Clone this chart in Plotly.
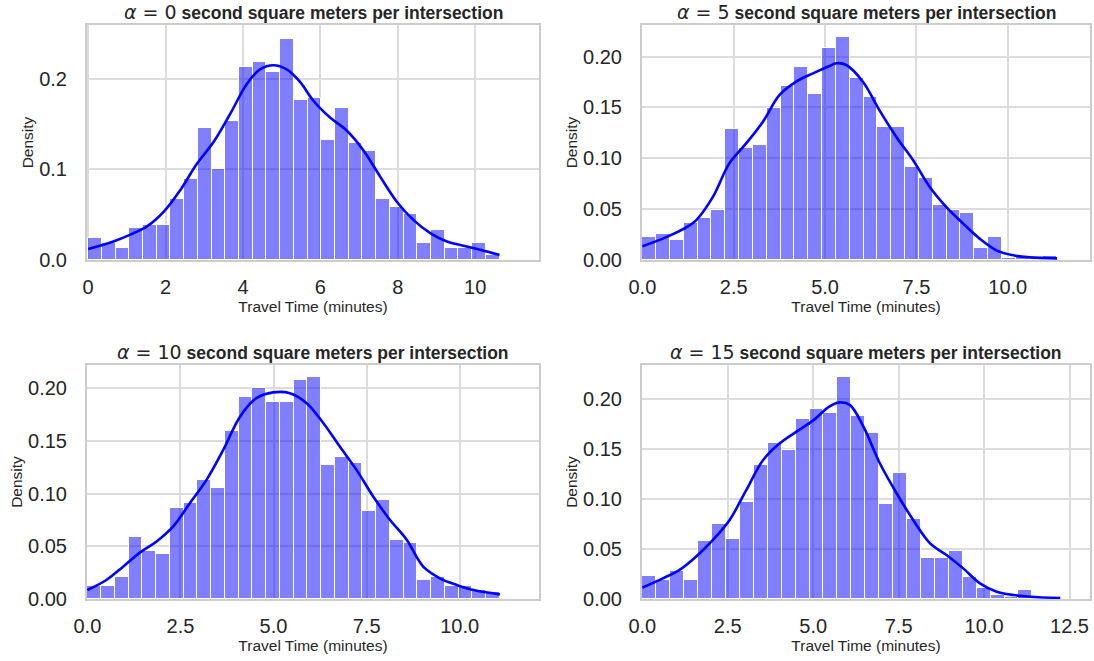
import plotly.graph_objects as go

# ---------------- data ----------------
alphas = [0, 5, 10, 15]

hist_min = [0.0, 0.0, 0.0, 0.0]
hist_max = [10.63, 11.35, 11.08, 12.23]

dens_a0 = [0.0245, 0.0186, 0.0135, 0.0358, 0.0387, 0.0387, 0.0668, 0.089, 0.1456, 0.1007,
           0.1536, 0.2128, 0.2182, 0.2077, 0.244, 0.1763, 0.179, 0.1318, 0.168, 0.1285,
           0.1204, 0.0668, 0.0584, 0.0504, 0.019, 0.0332, 0.0135, 0.0135, 0.019, 0.0055]
dens_a5 = [0.0227, 0.0253, 0.020, 0.0364, 0.0417, 0.0492, 0.1287, 0.1103, 0.1129, 0.1497,
           0.171, 0.1894, 0.1632, 0.208, 0.219, 0.179, 0.160, 0.131, 0.131, 0.0919,
           0.0811, 0.0545, 0.0492, 0.0466, 0.0122, 0.0227, 0.002, 0.0043, 0.0, 0.0043]
dens_a10 = [0.0123, 0.0127, 0.0209, 0.0589, 0.0456, 0.043, 0.086, 0.0915, 0.1133, 0.105,
            0.1595, 0.192, 0.200, 0.1867, 0.1867, 0.208, 0.2108, 0.127, 0.1348, 0.1294,
            0.0835, 0.094, 0.056, 0.0532, 0.018, 0.0209, 0.0127, 0.0127, 0.0085, 0.0066]
dens_a15 = [0.0234, 0.019, 0.0284, 0.019, 0.058, 0.0752, 0.0605, 0.0972, 0.134, 0.156,
            0.149, 0.1808, 0.1904, 0.186, 0.2225, 0.1834, 0.166, 0.0949, 0.1266, 0.080,
            0.0408, 0.0408, 0.0481, 0.0217, 0.0113, 0.004, 0.0023, 0.009, 0.0, 0.002]
densities = [dens_a0, dens_a5, dens_a10, dens_a15]

kde_x_a0 = [0.0, 0.65, 1.09, 1.52, 1.95, 2.38, 2.81, 3.24, 3.67, 4.10, 4.44, 4.79, 5.13,
            5.48, 5.82, 6.25, 6.68, 7.11, 7.55, 7.98, 8.41, 8.84, 9.27, 9.70, 10.13, 10.63]
kde_y_a0 = [0.012, 0.0204, 0.028, 0.037, 0.053, 0.077, 0.106, 0.130, 0.161, 0.194, 0.210,
            0.2146, 0.210, 0.196, 0.1755, 0.157, 0.1427, 0.121, 0.0916, 0.064, 0.044, 0.0296,
            0.0204, 0.0157, 0.0113, 0.0055]
kde_x_a5 = [0.0, 0.56, 1.1, 1.47, 1.93, 2.38, 2.84, 3.30, 3.75, 4.21, 4.67, 5.12, 5.31, 5.58,
            6.04, 6.49, 6.95, 7.41, 7.86, 8.32, 8.78, 9.23, 9.69, 10.15, 10.6, 11.35]
kde_y_a5 = [0.0135, 0.021, 0.030, 0.039, 0.062, 0.095, 0.1146, 0.136, 0.162, 0.1753, 0.1835,
            0.1907, 0.1934, 0.1917, 0.175, 0.147, 0.121, 0.098, 0.072, 0.052, 0.0358, 0.021,
            0.0095, 0.0046, 0.0026, 0.0016]
kde_x_a10 = [0.0, 0.51, 0.96, 1.41, 1.85, 2.30, 2.75, 3.20, 3.65, 4.10, 4.54, 4.99, 5.44,
             5.89, 6.34, 6.78, 7.23, 7.68, 8.13, 8.58, 9.02, 9.47, 9.92, 10.37, 11.08]
kde_y_a10 = [0.0085, 0.018, 0.0307, 0.044, 0.0544, 0.0687, 0.0908, 0.113, 0.1415, 0.173,
             0.1905, 0.196, 0.1953, 0.1858, 0.1668, 0.1446, 0.1225, 0.097, 0.075, 0.056,
             0.0307, 0.0196, 0.0133, 0.0085, 0.0044]
kde_x_a15 = [0.0, 0.6, 1.08, 1.57, 2.06, 2.55, 3.04, 3.53, 4.02, 4.51, 5.0, 5.48, 5.78, 6.07,
             6.47, 6.95, 7.44, 7.93, 8.42, 8.9, 9.39, 9.88, 10.37, 10.86, 11.35, 12.23]
kde_y_a15 = [0.0114, 0.0207, 0.029, 0.0424, 0.059, 0.079, 0.109, 0.139, 0.156, 0.1677, 0.179,
             0.193, 0.197, 0.1945, 0.1727, 0.136, 0.106, 0.079, 0.0558, 0.0441, 0.0307, 0.0157,
             0.0073, 0.004, 0.0023, 0.001]
kde_xs = [kde_x_a0, kde_x_a5, kde_x_a10, kde_x_a15]
kde_ys = [kde_y_a0, kde_y_a5, kde_y_a10, kde_y_a15]

x_ticks = [[0, 2, 4, 6, 8, 10], [0, 2.5, 5, 7.5, 10], [0, 2.5, 5, 7.5, 10],
           [0, 2.5, 5, 7.5, 10, 12.5]]
y_ticks = [[0, 0.1, 0.2], [0, 0.05, 0.10, 0.15, 0.20], [0, 0.05, 0.10, 0.15, 0.20],
           [0, 0.05, 0.10, 0.15, 0.20]]
x_fmt = ["d", ".1f", ".1f", ".1f"]
y_fmt = [".1f", ".2f", ".2f", ".2f"]
x_ranges = [[-0.03, 11.65], [-0.01, 12.25], [-0.01, 12.13], [-0.01, 13.1]]
y_ranges = [[0, 0.259], [0, 0.231], [0, 0.222], [0, 0.2345]]

x_label = "Travel Time (minutes)"
y_label = "Density"

# ---------------- layout geometry ----------------
W, H = 1094, 661
col_px = [(87, 539), (642, 1090)]
row_px = [(25, 260), (365, 599)]
TXT = "#262626"
FONT = "Liberation Sans, Arial, sans-serif"

fig = go.Figure()
layout = dict(width=W, height=H, margin=dict(l=0, r=0, t=0, b=0, autoexpand=False),
              paper_bgcolor="white", plot_bgcolor="white", showlegend=False,
              bargap=0, font=dict(family=FONT, color=TXT))
annotations = []

for i in range(4):
    r, c = divmod(i, 2)
    xa = "x" if i == 0 else f"x{i+1}"
    ya = "y" if i == 0 else f"y{i+1}"
    n = len(densities[i])
    bw = (hist_max[i] - hist_min[i]) / n
    centers = [hist_min[i] + bw * (k + 0.5) for k in range(n)]
    fig.add_trace(go.Bar(x=centers, y=densities[i], width=bw, xaxis=xa, yaxis=ya,
                         marker=dict(color="rgba(0,0,255,0.5)",
                                     line=dict(color="white", width=1))))
    fig.add_trace(go.Scatter(x=kde_xs[i], y=kde_ys[i], mode="lines", xaxis=xa, yaxis=ya,
                             line=dict(color="#0000ff", width=2.6, shape="spline",
                                       smoothing=1.0)))
    x0, x1 = col_px[c]
    y0, y1 = row_px[r]
    xdom = [x0 / W, x1 / W]
    ydom = [1 - y1 / H, 1 - y0 / H]
    key_x = "xaxis" if i == 0 else f"xaxis{i+1}"
    key_y = "yaxis" if i == 0 else f"yaxis{i+1}"
    layout[key_x] = dict(domain=xdom, anchor=ya, range=x_ranges[i], tickvals=x_ticks[i],
                         tickformat=x_fmt[i], showgrid=True, gridcolor="#dcdcdc",
                         gridwidth=1.5, zeroline=False, showline=True, mirror=True,
                         linecolor="#cccccc", linewidth=2, ticks="", automargin=False,
                         ticklabelstandoff=8,
                         tickfont=dict(size=20, color=TXT, family=FONT),
                         title=dict(text=x_label, font=dict(size=15.5, color=TXT),
                                    standoff=4))
    layout[key_y] = dict(domain=ydom, anchor=xa, range=y_ranges[i], tickvals=y_ticks[i],
                         tickformat=y_fmt[i], showgrid=True, gridcolor="#dcdcdc",
                         gridwidth=1.5, zeroline=False, showline=True, mirror=True,
                         linecolor="#cccccc", linewidth=2, ticks="", automargin=False,
                         ticklabelstandoff=14,
                         tickfont=dict(size=20, color=TXT, family=FONT),
                         title=dict(text=y_label, font=dict(size=15.5, color=TXT),
                                    standoff=2))
    title = (f'<span style="font-family:DejaVu Sans;font-size:19px"><i>α</i> = {alphas[i]}</span>'
             f' <b>second square meters per intersection</b>')
    annotations.append(dict(text=title, xref="paper", yref="paper",
                            x=(x0 + x1) / 2 / W, y=1 - (y0 - 13) / H,
                            xanchor="center", yanchor="middle", showarrow=False,
                            font=dict(size=17.5, color=TXT, family=FONT)))

layout["annotations"] = annotations
fig.update_layout(**layout)
fig.write_html("out.html")
